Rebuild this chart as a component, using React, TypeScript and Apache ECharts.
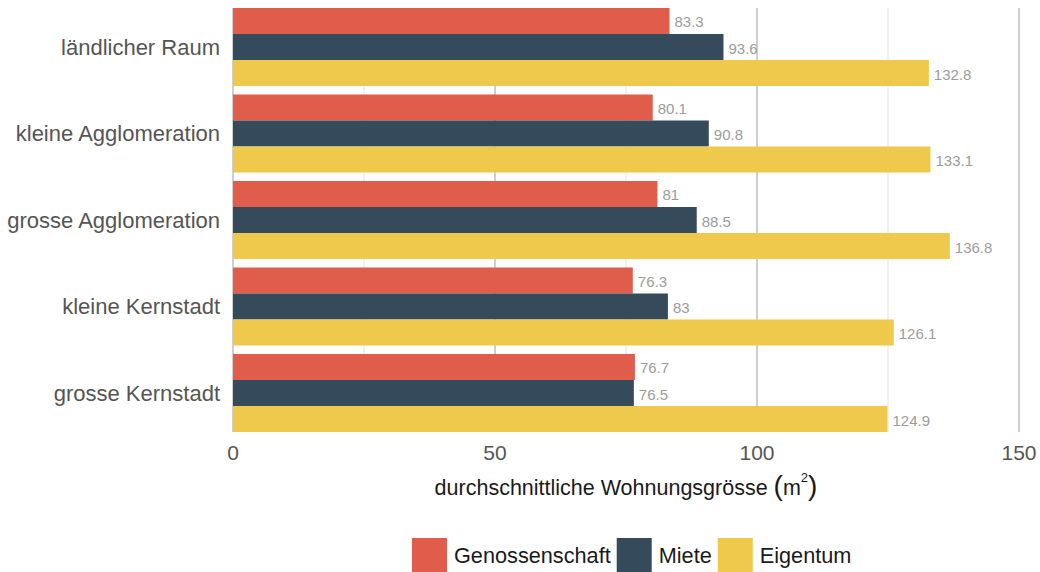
import React, { useEffect, useRef } from "react";
import * as echarts from "echarts";

const categories = [
  "ländlicher Raum",
  "kleine Agglomeration",
  "grosse Agglomeration",
  "kleine Kernstadt",
  "grosse Kernstadt",
];
const seriesNames = ["Genossenschaft", "Miete", "Eigentum"];
const genossenschaft = [83.3, 80.1, 81, 76.3, 76.7];
const miete = [93.6, 90.8, 88.5, 83, 76.5];
const eigentum = [132.8, 133.1, 136.8, 126.1, 124.9];
const colors = ["#E05C4B", "#354B5C", "#EEC94B"];
const FONT = "'Liberation Sans', Arial, Helvetica, sans-serif";

export default function App() {
  const ref = useRef<HTMLDivElement>(null);
  useEffect(() => {
    if (!ref.current) return;
    const chart = echarts.init(ref.current, null, { renderer: "svg" });
    const values = [genossenschaft, miete, eigentum];
    chart.setOption({
      animation: false,
      textStyle: { fontFamily: FONT },
      grid: [
        { left: 233, right: 21, top: 3.75, height: 432.5, containLabel: false },
        { left: 233, right: 21, top: 8, height: 424, containLabel: false },
      ],
      xAxis: [
        {
          gridIndex: 0,
          type: "value",
          min: 0,
          max: 150,
          interval: 50,
          axisLabel: { show: false },
          axisLine: { show: false },
          axisTick: { show: false },
          splitLine: { show: false },
        },
        {
          gridIndex: 1,
          type: "value",
          min: 0,
          max: 150,
          interval: 50,
          axisLine: { show: false },
          axisTick: { show: false },
          axisLabel: { color: "#555", fontSize: 21, margin: 10, fontFamily: FONT },
          splitLine: { show: true, lineStyle: { color: "#cfcfcf", width: 2 } },
          minorTick: { show: false, splitNumber: 2 },
          minorSplitLine: { show: true, lineStyle: { color: "#ececec", width: 1.5 } },
          name: "{t|durchschnittliche Wohnungsgrösse }{p|(}{t|m}{s|2}{p|)}",
          nameLocation: "middle",
          nameGap: 39,
          nameTextStyle: {
            rich: {
              t: { fontSize: 21.5, color: "#1a1a1a", fontFamily: FONT, verticalAlign: "bottom" },
              p: { fontSize: 28, color: "#1a1a1a", fontFamily: FONT, fontWeight: 100, verticalAlign: "bottom" },
              s: { fontSize: 13, color: "#1a1a1a", fontFamily: FONT, verticalAlign: "top" },
            },
          },
        },
      ],
      yAxis: [
        {
          gridIndex: 0,
          type: "category",
          inverse: true,
          data: categories,
          axisLine: { show: false },
          axisTick: { show: false },
          axisLabel: { color: "#555", fontSize: 22, margin: 13, fontFamily: FONT },
        },
        {
          gridIndex: 1,
          type: "category",
          show: false,
          data: categories,
        },
      ],
      legend: {
        left: 412,
        top: 538,
        padding: 0,
        itemWidth: 35,
        itemHeight: 34,
        itemGap: 6,
        icon: "rect",
        data: seriesNames,
        textStyle: { fontSize: 21.7, color: "#1a1a1a", fontFamily: FONT, padding: [2, 0, 0, 2] },
      },
      series: seriesNames.map((name, i) => ({
        name,
        type: "bar",
        xAxisIndex: 0,
        yAxisIndex: 0,
        data: values[i],
        barGap: "0%",
        barCategoryGap: "9.8%",
        itemStyle: { color: colors[i] },
        label: {
          show: true,
          position: "right",
          distance: 5,
          offset: [0, 1],
          color: "#9c9c9c",
          fontSize: 15,
          fontFamily: FONT,
        },
      })),
    });
    return () => chart.dispose();
  }, []);
  return (
    <div
      ref={ref}
      style={{ position: "absolute", left: 0, top: 0, width: 1040, height: 572 }}
    />
  );
}
